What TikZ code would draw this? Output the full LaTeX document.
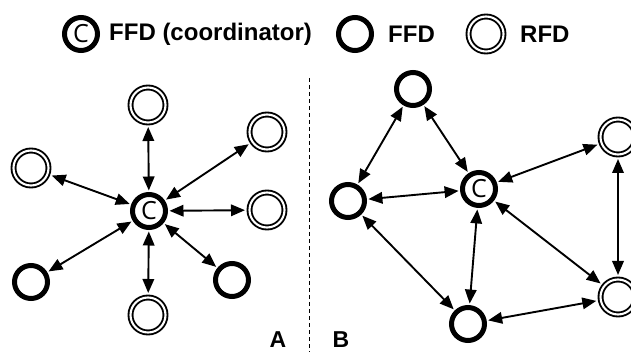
\documentclass[tikz,border=0pt]{standalone}
\usepackage{fontspec}
\setmainfont{Liberation Sans}
\newfontfamily\cfont{Open Sans}
\usetikzlibrary{arrows.meta}
\tikzset{
  ffd/.style={circle, draw, line width=5pt, minimum size=33pt, inner sep=0pt, outer sep=4pt},
  rfd/.style={circle, draw, line width=1.9pt, double, double distance=2.1pt, minimum size=35pt, inner sep=0pt, outer sep=4.5pt},
  coord/.style={ffd, font=\cfont\fontsize{25}{25}\selectfont, text height=17pt, text depth=0pt},
  lbl/.style={font=\bfseries\fontsize{24}{26}\selectfont, inner sep=0pt, anchor=west},
  panel/.style={font=\bfseries\fontsize{23}{24}\selectfont, inner sep=0pt, text height=16.5pt, text depth=0pt},
  link/.style={line width=1.9pt, {Triangle[length=14pt,width=11.5pt]}-{Triangle[length=14pt,width=11.5pt]}},
}
\begin{document}
\begin{tikzpicture}[x=1pt, y=-1pt]
\useasboundingbox (0,0) rectangle (631,352);
% legend
\node[coord] (lc) at (81,34) {C};
\node[lbl] (lct) at (109,34) {FFD (coordinator)};
\node[ffd] (lf) at (355,34) {};
\node[lbl] (lft) at (388,34) {FFD};
\node[rfd] (lr) at (486,34) {};
\node[lbl] (lrt) at (520,34) {RFD};
% divider
\coordinate (d1) at (309,78);
\coordinate (d2) at (309,352);
\draw[line width=1pt, dash pattern=on 4pt off 3pt] (d1) -- (d2);
% panel A
\node[coord] (ac) at (149,211) {C};
\node[rfd] (at) at (148,105) {};
\node[rfd] (aur) at (267,132) {};
\node[rfd] (al) at (31,168) {};
\node[rfd] (ar) at (267,210) {};
\node[ffd] (abl) at (31,282) {};
\node[rfd] (ab) at (148,315) {};
\node[ffd] (abr) at (232,280) {};
\foreach \n in {at,aur,al,ar,abl,ab,abr} \draw[link] (ac) -- (\n);
\node[panel] (la) at (278,339) {A};
% panel B
\node[coord] (bc) at (479,189) {C};
\node[ffd] (bt) at (413,89) {};
\node[ffd] (bl) at (348,201) {};
\node[ffd] (bb) at (468,324) {};
\node[rfd] (brt) at (618,137) {};
\node[rfd] (brb) at (618,297) {};
\draw[link] (bt) -- (bl);
\draw[link] (bt) -- (bc);
\draw[link] (bl) -- (bc);
\draw[link] (bl) -- (bb);
\draw[link] (bc) -- (bb);
\draw[link] (bc) -- (brt);
\draw[link] (bc) -- (brb);
\draw[link] (brt) -- (brb);
\draw[link] (bb) -- (brb);
\node[panel] (lb) at (341,339) {B};
\end{tikzpicture}
\end{document}
